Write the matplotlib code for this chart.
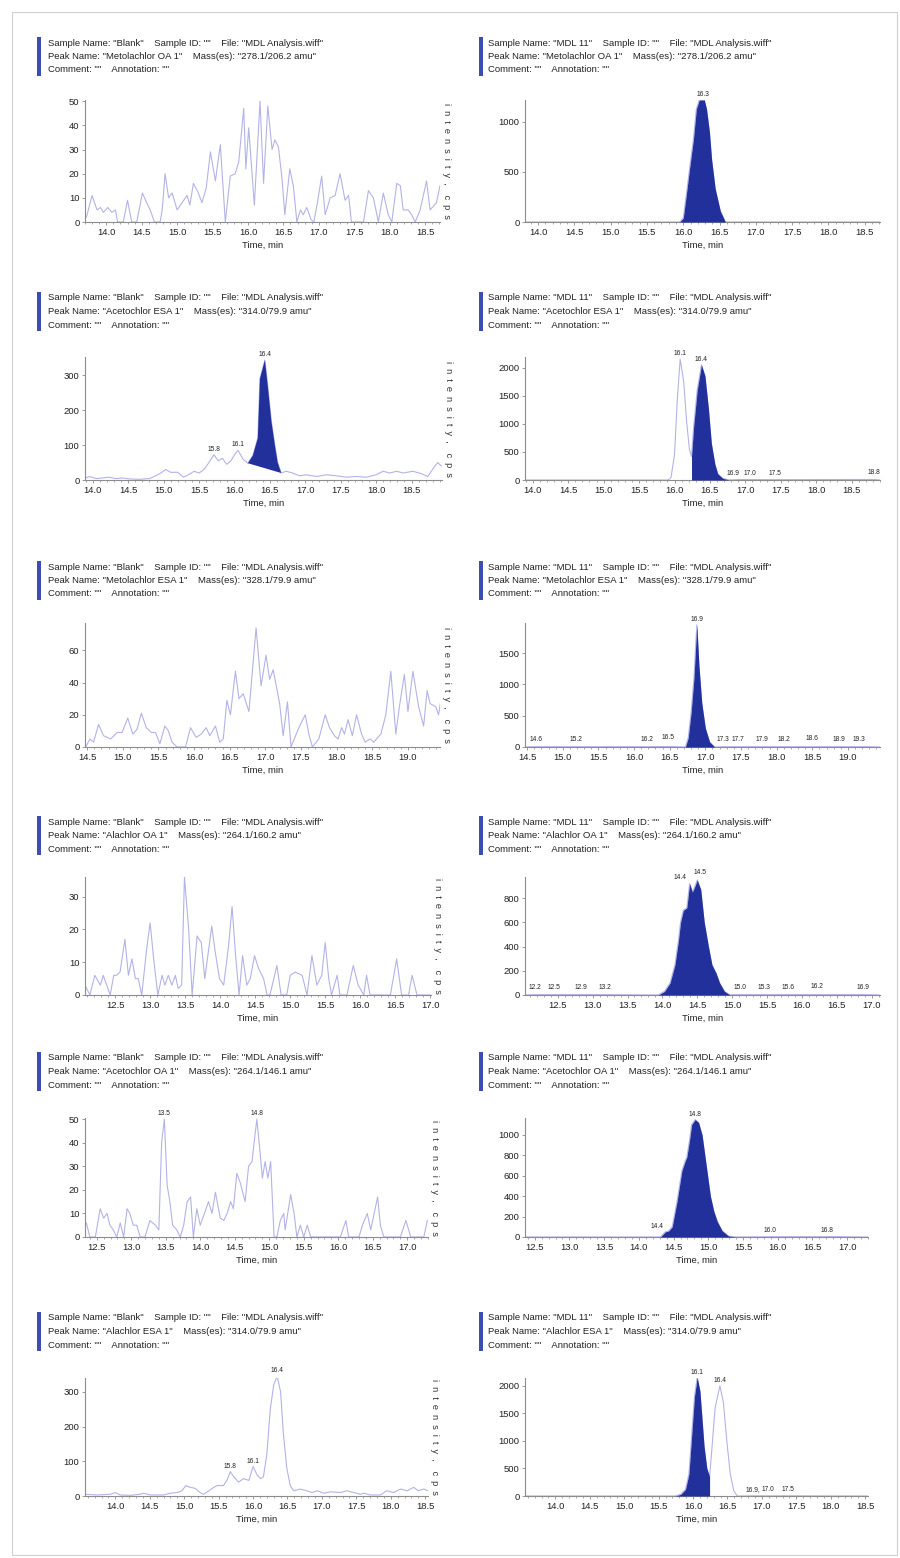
import numpy as np
import matplotlib.pyplot as plt
from matplotlib.patches import Rectangle
from matplotlib.ticker import MultipleLocator, FormatStrFormatter

compounds = ["Metolachlor OA 1", "Acetochlor ESA 1", "Metolachlor ESA 1",
             "Alachlor OA 1", "Acetochlor OA 1", "Alachlor ESA 1"]
masses = ["278.1/206.2 amu", "314.0/79.9 amu", "328.1/79.9 amu",
          "264.1/160.2 amu", "264.1/146.1 amu", "314.0/79.9 amu"]
samples = ["Blank", "MDL 11"]

# rangée 1 : Metolachlor OA
mo_oa_blank_t = [13.72, 13.80, 13.87, 13.92, 13.96, 14.02, 14.08, 14.13, 14.16, 14.24, 14.30, 14.36, 14.43, 14.51,
                 14.57, 14.62, 14.68, 14.76, 14.79, 14.83, 14.88, 14.93, 15.00, 15.07, 15.14, 15.18, 15.23, 15.30,
                 15.35, 15.41, 15.47, 15.54, 15.61, 15.68, 15.75, 15.82, 15.87, 15.94, 15.97, 16.01, 16.09, 16.17,
                 16.22, 16.28, 16.34, 16.38, 16.43, 16.48, 16.52, 16.59, 16.64, 16.69, 16.74, 16.78, 16.83, 16.89,
                 16.93, 16.98, 17.04, 17.09, 17.16, 17.23, 17.30, 17.37, 17.42, 17.46, 17.63, 17.70, 17.77, 17.84,
                 17.91, 17.98, 18.03, 18.10, 18.15, 18.19, 18.26, 18.31, 18.36, 18.43, 18.52, 18.57, 18.66, 18.71]
mo_oa_blank_y = [2, 11, 5, 6, 4, 6, 4, 5, 0, 0, 9, 0, 0, 12, 8, 5, 0, 0, 5, 20, 10, 12, 5, 8, 11, 7, 16, 12, 8, 14,
                 29, 17, 32, 0, 19, 20, 25, 47, 22, 39, 7, 50, 16, 48, 30, 34, 31, 18, 3, 22, 15, 0, 5, 3, 6, 1, 0,
                 8, 19, 3, 10, 11, 20, 9, 11, 0, 0, 13, 10, 0, 12, 3, 0, 16, 15, 5, 5, 3, 0, 5, 17, 5, 8, 15]
mo_oa_mdl_t = [13.82, 15.95, 16.00, 16.04, 16.09, 16.14, 16.18, 16.22, 16.29, 16.32, 16.36, 16.39, 16.44, 16.51,
               16.58, 18.71]
mo_oa_mdl_y = [0, 0, 40, 260, 550, 825, 1125, 1215, 1215, 1125, 900, 625, 330, 110, 0, 0]

# rangée 2 : Acetochlor ESA
ac_esa_blank_t = [13.89, 13.95, 14.05, 14.14, 14.23, 14.33, 14.42, 14.52, 14.66, 14.80, 14.89, 14.96, 15.03, 15.10,
                  15.20, 15.28, 15.36, 15.43, 15.50, 15.57, 15.64, 15.71, 15.77, 15.83, 15.89, 15.95, 16.01, 16.05,
                  16.12, 16.19, 16.26, 16.33, 16.36, 16.43, 16.47, 16.52, 16.57, 16.61, 16.66, 16.73, 16.82, 16.92,
                  17.01, 17.16, 17.30, 17.44, 17.58, 17.72, 17.86, 18.00, 18.10, 18.19, 18.29, 18.38, 18.52, 18.64,
                  18.73, 18.83, 18.87, 18.92]
ac_esa_blank_y = [5, 10, 4, 6, 8, 4, 6, 3, 2, 4, 12, 20, 30, 22, 22, 8, 16, 25, 20, 30, 50, 72, 55, 62, 45, 55, 75,
                  85, 60, 48, 70, 120, 290, 343, 270, 170, 100, 50, 20, 25, 20, 12, 15, 10, 15, 12, 8, 10, 8, 15,
                  25, 20, 25, 20, 25, 18, 10, 40, 50, 40]
ac_esa_mdl_t = [13.89, 15.91, 15.95, 16.00, 16.04, 16.08, 16.13, 16.17, 16.21, 16.24, 16.27, 16.32, 16.38, 16.43,
                16.48, 16.52, 16.57, 16.61, 16.68, 16.77, 16.90, 17.00, 17.50, 18.80, 18.90]
ac_esa_mdl_y = [0, 0, 40, 450, 1450, 2150, 1750, 1050, 550, 420, 950, 1600, 2050, 1850, 1250, 650, 280, 110, 30, 0,
                8, 8, 6, 10, 0]

# rangée 3 : Metolachlor ESA
me_esa_blank_t = [14.48, 14.54, 14.59, 14.66, 14.73, 14.83, 14.92, 14.99, 15.07, 15.14, 15.20, 15.26, 15.33, 15.40,
                  15.46, 15.52, 15.59, 15.64, 15.69, 15.76, 15.88, 15.95, 16.03, 16.10, 16.17, 16.22, 16.30, 16.36,
                  16.41, 16.46, 16.51, 16.58, 16.63, 16.69, 16.77, 16.87, 16.94, 17.01, 17.06, 17.11, 17.20, 17.25,
                  17.31, 17.36, 17.47, 17.56, 17.61, 17.66, 17.75, 17.84, 17.90, 17.97, 18.02, 18.07, 18.11, 18.16,
                  18.22, 18.28, 18.35, 18.40, 18.47, 18.52, 18.62, 18.69, 18.76, 18.83, 18.88, 18.95, 19.00, 19.07,
                  19.15, 19.22, 19.27, 19.31, 19.39, 19.43, 19.51, 19.58]
me_esa_blank_y = [0, 5, 3, 14, 7, 5, 9, 9, 18, 8, 11, 21, 12, 9, 9, 2, 13, 10, 3, 0, 0, 12, 6, 8, 12, 7, 13, 3, 5,
                  29, 20, 47, 30, 33, 22, 74, 38, 57, 42, 48, 27, 7, 28, 0, 12, 20, 8, 0, 5, 20, 12, 7, 5, 12, 8,
                  17, 7, 20, 8, 3, 5, 3, 8, 20, 47, 8, 25, 45, 22, 47, 25, 13, 35, 27, 25, 20, 43, 28]
me_esa_mdl_t = [14.47, 14.60, 15.20, 16.20, 16.50, 16.72, 16.76, 16.80, 16.84, 16.88, 16.91, 16.95, 17.00, 17.06,
                17.13, 17.30, 17.70, 17.90, 18.20, 18.60, 18.90, 19.30, 19.45]
me_esa_mdl_y = [0, 5, 5, 5, 8, 0, 150, 550, 1100, 1950, 1300, 700, 300, 80, 0, 5, 5, 5, 5, 5, 5, 5, 0]

# rangée 4 : Alachlor OA
al_oa_blank_t = [12.07, 12.14, 12.21, 12.29, 12.33, 12.38, 12.43, 12.48, 12.52, 12.57, 12.64, 12.69, 12.74, 12.79,
                 12.83, 12.88, 12.95, 13.00, 13.05, 13.11, 13.17, 13.21, 13.26, 13.31, 13.36, 13.40, 13.45, 13.49,
                 13.55, 13.60, 13.67, 13.73, 13.78, 13.83, 13.88, 13.93, 13.99, 14.05, 14.12, 14.17, 14.22, 14.27,
                 14.32, 14.38, 14.43, 14.49, 14.55, 14.62, 14.67, 14.71, 14.81, 14.87, 14.95, 15.00, 15.07, 15.17,
                 15.24, 15.31, 15.38, 15.45, 15.50, 15.55, 15.59, 15.67, 15.71, 15.81, 15.90, 15.97, 16.05, 16.09,
                 16.14, 16.43, 16.52, 16.59, 16.69, 16.74, 16.81, 17.00]
al_oa_blank_y = [3, 0, 6, 3, 6, 3, 0, 6, 6, 7, 17, 6, 11, 5, 5, 0, 14, 22, 11, 0, 6, 3, 6, 3, 6, 2, 3, 36, 20, 0,
                 18, 16, 5, 13, 21, 13, 5, 3, 15, 27, 12, 0, 12, 3, 5, 12, 8, 5, 0, 0, 9, 0, 0, 6, 7, 6, 0, 12, 3,
                 6, 16, 5, 0, 6, 0, 0, 9, 3, 0, 6, 0, 0, 11, 0, 0, 6, 0, 0]
al_oa_mdl_t = [12.03, 12.20, 12.50, 12.90, 13.20, 13.94, 14.03, 14.11, 14.18, 14.23, 14.26, 14.30, 14.35, 14.39,
               14.43, 14.46, 14.50, 14.55, 14.60, 14.66, 14.71, 14.77, 14.82, 14.89, 14.97, 15.00, 15.30, 15.60,
               16.20, 16.90, 17.12]
al_oa_mdl_y = [0, 3, 3, 3, 3, 0, 30, 100, 250, 450, 600, 700, 720, 920, 850, 890, 950, 870, 600, 400, 250, 180,
               100, 30, 0, 3, 3, 3, 3, 3, 0]

# rangée 5 : Acetochlor OA
ac_oa_blank_t = [12.33, 12.35, 12.40, 12.48, 12.55, 12.60, 12.65, 12.69, 12.74, 12.79, 12.84, 12.89, 12.94, 12.98,
                 13.03, 13.08, 13.13, 13.20, 13.27, 13.35, 13.40, 13.44, 13.48, 13.52, 13.56, 13.60, 13.66, 13.71,
                 13.76, 13.81, 13.86, 13.90, 13.95, 14.00, 14.06, 14.12, 14.17, 14.22, 14.29, 14.34, 14.39, 14.44,
                 14.48, 14.53, 14.58, 14.65, 14.70, 14.75, 14.78, 14.82, 14.86, 14.90, 14.94, 14.98, 15.02, 15.07,
                 15.11, 15.16, 15.21, 15.23, 15.31, 15.36, 15.40, 15.45, 15.50, 15.55, 15.60, 16.03, 16.11, 16.15,
                 16.30, 16.35, 16.42, 16.47, 16.57, 16.61, 16.66, 16.90, 16.98, 17.05, 17.24, 17.29]
ac_oa_blank_y = [5, 6, 0, 0, 12, 8, 10, 5, 3, 0, 6, 0, 12, 10, 5, 5, 0, 0, 7, 5, 3, 40, 50, 22, 15, 5, 3, 0, 5, 15,
                 17, 0, 12, 5, 10, 15, 10, 19, 8, 7, 10, 15, 12, 27, 23, 15, 30, 32, 40, 50, 38, 25, 32, 25, 32, 0,
                 0, 7, 10, 3, 18, 10, 0, 5, 0, 5, 0, 0, 7, 0, 0, 5, 10, 3, 17, 5, 0, 0, 7, 0, 0, 7]
ac_oa_mdl_t = [12.36, 14.31, 14.38, 14.43, 14.48, 14.55, 14.62, 14.67, 14.69, 14.73, 14.76, 14.81, 14.86, 14.91,
               14.95, 14.99, 15.03, 15.08, 15.13, 15.20, 15.29, 15.39, 16.00, 16.80, 17.30]
ac_oa_mdl_y = [0, 0, 50, 60, 100, 350, 650, 750, 780, 950, 1100, 1150, 1120, 1000, 800, 600, 400, 250, 150, 60, 10,
               0, 3, 3, 0]

# rangée 6 : Alachlor ESA
al_esa_blank_t = [13.56, 13.73, 13.93, 14.00, 14.07, 14.22, 14.36, 14.41, 14.51, 14.70, 14.80, 14.90, 14.97, 15.02,
                  15.09, 15.16, 15.23, 15.28, 15.36, 15.43, 15.48, 15.57, 15.62, 15.67, 15.72, 15.79, 15.86, 15.94,
                  16.00, 16.06, 16.11, 16.15, 16.20, 16.25, 16.30, 16.35, 16.40, 16.44, 16.49, 16.54, 16.59, 16.69,
                  16.78, 16.86, 16.93, 17.03, 17.12, 17.27, 17.36, 17.46, 17.56, 17.61, 17.70, 17.85, 17.94, 18.04,
                  18.14, 18.24, 18.33, 18.40, 18.48, 18.54]
al_esa_blank_y = [5, 3, 5, 10, 3, 2, 5, 8, 3, 3, 8, 10, 15, 30, 25, 22, 10, 5, 15, 25, 30, 30, 45, 70, 55, 40, 50,
                  45, 85, 60, 50, 55, 120, 250, 320, 345, 300, 180, 80, 30, 15, 20, 15, 10, 15, 8, 12, 10, 15, 10,
                  5, 8, 3, 3, 15, 10, 20, 15, 25, 15, 20, 15]
al_esa_mdl_t = [13.56, 15.74, 15.82, 15.89, 15.94, 15.98, 16.02, 16.06, 16.10, 16.13, 16.16, 16.20, 16.24, 16.27,
                16.32, 16.39, 16.44, 16.49, 16.54, 16.59, 16.64, 16.90, 17.00, 17.50, 18.54]
al_esa_mdl_y = [0, 0, 30, 120, 400, 1100, 1800, 2150, 1900, 1400, 900, 500, 350, 800, 1600, 2000, 1700, 1000, 400,
                100, 0, 3, 3, 3, 0]

# fenêtres d'intégration (pics remplis)
fill_windows = {
    (0, 1): (15.95, 16.58),
    (1, 0): (16.19, 16.66),
    (1, 1): (16.24, 16.77),
    (2, 1): (16.72, 17.13),
    (3, 1): (13.94, 14.97),
    (4, 1): (14.31, 15.39),
    (5, 1): (15.74, 16.24),
}

# étiquettes de pics : (temps, intensité, texte)
peak_labels = {
    (0, 1): [(16.27, 1215, "16.3")],
    (1, 0): [(15.71, 72, "15.8"), (16.05, 85, "16.1"), (16.43, 343, "16.4")],
    (1, 1): [(16.08, 2150, "16.1"), (16.38, 2050, "16.4"), (16.82, 20, "16.9"), (17.07, 20, "17.0"),
             (17.42, 20, "17.5"), (18.82, 40, "18.8")],
    (2, 1): [(16.88, 1950, "16.9"), (14.62, 30, "14.6"), (15.18, 30, "15.2"), (16.18, 30, "16.2"),
             (16.48, 60, "16.5"), (17.24, 30, "17.3"), (17.45, 30, "17.7"), (17.80, 30, "17.9"),
             (18.10, 30, "18.2"), (18.50, 50, "18.6"), (18.88, 30, "18.9"), (19.15, 40, "19.3")],
    (3, 1): [(14.26, 930, "14.4"), (14.54, 965, "14.5"), (12.17, 20, "12.2"), (12.45, 20, "12.5"),
             (12.83, 20, "12.9"), (13.18, 20, "13.2"), (15.11, 20, "15.0"), (15.46, 20, "15.3"),
             (15.80, 20, "15.6"), (16.21, 25, "16.2"), (16.88, 20, "16.9")],
    (4, 0): [(13.48, 50, "13.5"), (14.82, 50, "14.8")],
    (4, 1): [(14.81, 1150, "14.8"), (14.26, 55, "14.4"), (15.89, 15, "16.0"), (16.71, 15, "16.8")],
    (5, 0): [(15.67, 70, "15.8"), (16.00, 85, "16.1"), (16.35, 345, "16.4")],
    (5, 1): [(16.06, 2150, "16.1"), (16.39, 2000, "16.4"), (16.87, 20, "16.9,"), (17.08, 20, "17.0"),
             (17.38, 20, "17.5")],
}

series = [
    [(mo_oa_blank_t, mo_oa_blank_y), (mo_oa_mdl_t, mo_oa_mdl_y)],
    [(ac_esa_blank_t, ac_esa_blank_y), (ac_esa_mdl_t, ac_esa_mdl_y)],
    [(me_esa_blank_t, me_esa_blank_y), (me_esa_mdl_t, me_esa_mdl_y)],
    [(al_oa_blank_t, al_oa_blank_y), (al_oa_mdl_t, al_oa_mdl_y)],
    [(ac_oa_blank_t, ac_oa_blank_y), (ac_oa_mdl_t, ac_oa_mdl_y)],
    [(al_esa_blank_t, al_esa_blank_y), (al_esa_mdl_t, al_esa_mdl_y)],
]

# axes : xlim par panneau, ylim / yticks par panneau
xlims = [[(13.70, 18.71), (13.82, 18.71)],
         [(13.89, 18.93), (13.89, 18.90)],
         [(14.47, 19.45), (14.47, 19.45)],
         [(12.07, 17.01), (12.03, 17.12)],
         [(12.33, 17.30), (12.36, 17.30)],
         [(13.56, 18.54), (13.56, 18.54)]]
ylims = [[50.5, 1215], [352, 2190], [77, 1980], [36, 975], [50.5, 1165], [340, 2140]]
ysteps = [[10, 500], [100, 500], [20, 500], [10, 200], [10, 200], [100, 500]]

# --- mise en page (pixels) ---
W, H = 900, 1558
FONT = ['Liberation Sans Narrow', 'Liberation Sans', 'DejaVu Sans']
plt.rcParams['font.family'] = FONT
TRACE = '#b3b3e8'
FILL = '#22309c'
BAR = '#3b4db0'
AXC = '#8c8c8c'

row_axes_px = [(100, 222), (357, 480), (623, 747), (877, 995), (1118, 1237), (1378, 1496)]
row_head_px = [43, 298, 567, 822, 1058, 1318]
# bornes horizontales des axes (px) par rangée et colonne
axes_x_px = [[(85, 440), (525, 880)],
             [(85, 442), (525, 880)],
             [(85, 440), (525, 880)],
             [(85, 431), (525, 880)],
             [(85, 428), (525, 868)],
             [(85, 428), (525, 868)]]
col_text_px = [48, 488]
col_bar_px = [37, 479]

fig = plt.figure(figsize=(W / 100, H / 100), dpi=100)
fig.add_artist(Rectangle((12 / W, 1 - 1555 / H), 885 / W, 1543 / H, transform=fig.transFigure,
                         fill=False, ec='#d0d0d0', lw=0.8))

for r in range(6):
    for c in range(2):
        # en-tête
        y0 = row_head_px[r]
        lines = ['Sample Name: "%s"    Sample ID: ""    File: "MDL Analysis.wiff"' % samples[c],
                 'Peak Name: "%s"    Mass(es): "%s"' % (compounds[r], masses[r]),
                 'Comment: ""    Annotation: ""']
        for k, txt in enumerate(lines):
            fig.text(col_text_px[c] / W, 1 - (y0 + 13.5 * k) / H, txt, fontsize=6.8,
                     va='center', ha='left', color='#222222')
        fig.add_artist(Rectangle((col_bar_px[c] / W, 1 - (y0 + 33) / H), 4 / W, 39 / H,
                                 transform=fig.transFigure, color=BAR, lw=0))

        # axes
        top, bot = row_axes_px[r]
        x0, x1 = axes_x_px[r][c]
        ax = fig.add_axes([x0 / W, 1 - bot / H, (x1 - x0) / W, (bot - top) / H])
        t = np.asarray(series[r][c][0])
        y = np.asarray(series[r][c][1])
        ax.plot(t, y, color=TRACE, lw=0.8, zorder=2)
        win = fill_windows.get((r, c))
        if win is not None:
            m = (t >= win[0]) & (t <= win[1])
            if c == 0:
                ax.fill(t[m], y[m], color=FILL, lw=0, zorder=3)
            else:
                ax.fill_between(t[m], y[m], 0, color=FILL, lw=0, zorder=3)
        for (lx, ly, lt) in peak_labels.get((r, c), []):
            ax.text(lx, ly + ylims[r][c] * 0.015, lt, fontsize=4.8, ha='center', va='bottom',
                    color='#222222', clip_on=False)

        ax.set_xlim(*xlims[r][c])
        ax.set_ylim(0, ylims[r][c])
        ax.xaxis.set_major_locator(MultipleLocator(0.5))
        ax.xaxis.set_minor_locator(MultipleLocator(0.1))
        ax.xaxis.set_major_formatter(FormatStrFormatter('%.1f'))
        ax.yaxis.set_major_locator(MultipleLocator(ysteps[r][c]))
        for s in ['top', 'right']:
            ax.spines[s].set_visible(False)
        for s in ['left', 'bottom']:
            ax.spines[s].set_color(AXC)
            ax.spines[s].set_linewidth(0.8)
        ax.tick_params(axis='both', which='major', labelsize=6.8, length=2.5, width=0.6, color=AXC,
                       pad=1.5, labelcolor='#222222')
        ax.tick_params(axis='x', which='minor', length=1.5, width=0.5, color=AXC)
        ax.set_xlabel('Time, min', fontsize=6.8, labelpad=3, color='#222222')
        ax.patch.set_alpha(0)
        if c == 0:
            ax.text(1 + 2.0 / (x1 - x0), 0.5, 'i  n  t  e  n  s  i  t  y  ,    c  p  s',
                    transform=ax.transAxes, rotation=-90, ha='left', va='center', fontsize=6.6,
                    color='#333333')

fig.savefig('out.png', dpi=100)
